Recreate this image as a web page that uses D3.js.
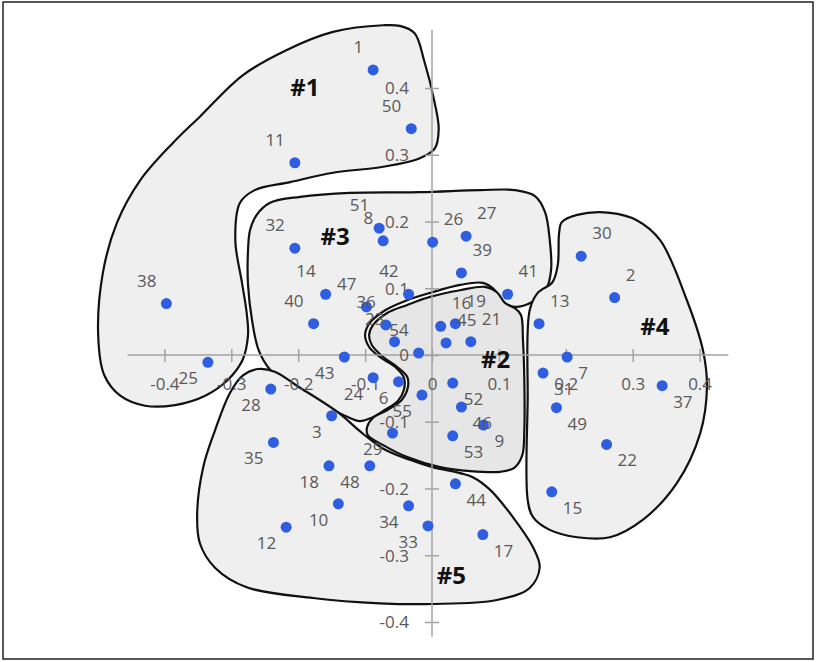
<!DOCTYPE html>
<html>
<head>
<meta charset="utf-8">
<script src="https://cdn.jsdelivr.net/npm/d3@7"></script>
<style>
    body { margin: 0; background: #fff; }
    svg { display: block; }
    .tick text, .pt-label { font-family: "Open Sans", "Liberation Sans", Arial, sans-serif; font-size: 17px; fill: #595959; }
    .cluster-label { font-family: "Open Sans", "Liberation Sans", Arial, sans-serif; font-size: 24px; font-weight: bold; fill: #111; }
</style>
</head>
<body>
<svg id="chart"></svg>
<script>
// point ids and coordinates
const ids = [1, 2, 3, 6, 7, 8, 9, 10, 11, 12, 13, 14, 15, 16, 17, 18, 19, 21, 22, 23,
    24, 25, 26, 27, 28, 29, 30, 31, 32, 33, 34, 35, 36, 37, 38, 39, 40, 41, 42, 43,
    44, 45, 46, 47, 48, 49, 50, 51, 52, 53, 54, 55];
const xs = [-0.088, 0.273, -0.150, -0.050, 0.202, -0.073, 0.077, -0.140, -0.205, -0.218, 0.160, -0.159, 0.179, 0.013, 0.076, -0.154, 0.035, 0.058, 0.261, -0.056,
    -0.088, -0.335, 0.001, 0.051, -0.241, -0.059, 0.223, 0.166, -0.205, -0.006, -0.035, -0.237, -0.069, 0.344, -0.397, 0.044, -0.177, 0.113, -0.035, -0.131,
    0.035, 0.021, 0.044, -0.098, -0.093, 0.186, -0.031, -0.079, 0.031, 0.031, -0.020, -0.015];
const ys = [0.427, 0.086, -0.091, -0.040, -0.003, 0.171, -0.105, -0.223, 0.288, -0.258, 0.047, 0.091, -0.205, 0.043, -0.269, -0.166, 0.047, 0.020, -0.134, 0.020,
    -0.034, -0.011, 0.169, 0.178, -0.051, -0.117, 0.148, -0.027, 0.160, -0.256, -0.226, -0.131, 0.045, -0.046, 0.077, 0.123, 0.047, 0.091, 0.091, -0.003,
    -0.193, 0.018, -0.078, 0.072, -0.166, -0.079, 0.339, 0.190, -0.042, -0.121, 0.003, -0.060];

const xTicks = [-0.4, -0.3, -0.2, -0.1, 0, 0.1, 0.2, 0.3, 0.4];
const yTicks = [-0.4, -0.3, -0.2, -0.1, 0, 0.1, 0.2, 0.3, 0.4];

// hand drawn cluster outlines, in data units
const outline1 = [[-0.048, 0.493], [-0.026, 0.482], [-0.012, 0.442], [0.004, 0.378], [0.010, 0.338], [0.004, 0.309], [-0.020, 0.294],
    [-0.073, 0.282], [-0.148, 0.273], [-0.212, 0.259], [-0.265, 0.247], [-0.287, 0.228], [-0.294, 0.172], [-0.284, 0.108], [-0.277, 0.063],
    [-0.275, 0.030], [-0.283, -0.007], [-0.305, -0.037], [-0.339, -0.061], [-0.384, -0.075], [-0.429, -0.076], [-0.466, -0.061],
    [-0.490, -0.030], [-0.499, 0.030], [-0.492, 0.123], [-0.471, 0.198], [-0.436, 0.262], [-0.387, 0.318], [-0.347, 0.357],
    [-0.283, 0.419], [-0.217, 0.457], [-0.148, 0.484], [-0.073, 0.494]];
const outline2 = [[-0.088, 0.045], [-0.067, 0.063], [-0.037, 0.075], [-0.003, 0.087], [0.042, 0.097], [0.079, 0.102], [0.097, 0.094],
    [0.109, 0.078], [0.124, 0.070], [0.133, 0.060], [0.136, 0.022], [0.138, -0.037], [0.138, -0.112], [0.135, -0.150], [0.123, -0.169],
    [0.102, -0.175], [0.057, -0.174], [0.012, -0.168], [-0.037, -0.153], [-0.073, -0.135], [-0.096, -0.120], [-0.097, -0.108],
    [-0.088, -0.094], [-0.066, -0.082], [-0.045, -0.067], [-0.036, -0.048], [-0.037, -0.033], [-0.052, -0.018], [-0.073, -0.003],
    [-0.090, 0.015], [-0.094, 0.030]];
const outline3 = [[-0.262, 0.210], [-0.242, 0.228], [-0.197, 0.237], [-0.123, 0.243], [-0.018, 0.244], [0.072, 0.247], [0.124, 0.247],
    [0.154, 0.238], [0.169, 0.214], [0.176, 0.172], [0.178, 0.127], [0.170, 0.097], [0.149, 0.079], [0.124, 0.072], [0.106, 0.079],
    [0.094, 0.097], [0.076, 0.108], [0.042, 0.105], [-0.003, 0.093], [-0.040, 0.081], [-0.070, 0.067], [-0.093, 0.048], [-0.100, 0.030],
    [-0.094, 0.012], [-0.078, -0.003], [-0.055, -0.018], [-0.042, -0.034], [-0.042, -0.052], [-0.051, -0.069], [-0.070, -0.082],
    [-0.090, -0.094], [-0.108, -0.099], [-0.130, -0.091], [-0.167, -0.072], [-0.212, -0.046], [-0.242, -0.022], [-0.259, 0.007],
    [-0.269, 0.052], [-0.275, 0.105], [-0.275, 0.157], [-0.272, 0.187]];
const outline4 = [[0.190, 0.183], [0.194, 0.199], [0.217, 0.210], [0.266, 0.213], [0.306, 0.202], [0.341, 0.172], [0.381, 0.082],
    [0.405, 0.007], [0.411, -0.048], [0.401, -0.117], [0.366, -0.192], [0.315, -0.247], [0.266, -0.273], [0.217, -0.273],
    [0.176, -0.262], [0.151, -0.243], [0.143, -0.217], [0.143, -0.067], [0.146, 0.067], [0.158, 0.093], [0.180, 0.109], [0.188, 0.135]];
const outline5 = [[-0.260, -0.021], [-0.235, -0.025], [-0.202, -0.046], [-0.142, -0.085], [-0.103, -0.118], [-0.070, -0.142],
    [-0.033, -0.157], [0.001, -0.168], [0.042, -0.177], [0.061, -0.183], [0.087, -0.202], [0.121, -0.243], [0.151, -0.288],
    [0.161, -0.318], [0.146, -0.349], [0.097, -0.367], [0.001, -0.373], [-0.078, -0.372], [-0.178, -0.364], [-0.277, -0.348],
    [-0.324, -0.319], [-0.347, -0.282], [-0.351, -0.237], [-0.342, -0.168], [-0.324, -0.112], [-0.302, -0.057], [-0.283, -0.031]];

const clusterNames = ['#1', '#3', '#4', '#5', '#2'];
const clusterShapes = [outline1, outline3, outline4, outline5, outline2];
const clusterFills = ['#efefef', '#efefef', '#efefef', '#efefef', '#e6e6e6'];
const clusterX = [-0.190, -0.145, 0.333, 0.029, 0.095];
const clusterY = [0.401, 0.177, 0.043, -0.330, -0.007];

const width = 816, height = 662;

const svg = d3.select('#chart')
    .attr('width', width)
    .attr('height', height);

// scales: 0.1 units is about 67 px on both axes
const x = d3.scaleLinear().domain([-0.4, 0.4]).range([164.4, 699.6]);
const y = d3.scaleLinear().domain([-0.4, 0.4]).range([622, 88]);

// frame round the picture
svg.append('rect')
    .attr('x', 3).attr('y', 2)
    .attr('width', 810).attr('height', 657)
    .attr('fill', 'none')
    .attr('stroke', '#222')
    .attr('stroke-width', 1.5);

// cluster outlines go under the axes
const shapeLine = d3.line()
    .x(d => x(d[0]))
    .y(d => y(d[1]))
    .curve(d3.curveCatmullRomClosed.alpha(0.5));

svg.append('g').selectAll('path')
    .data(clusterShapes)
    .join('path')
    .attr('d', shapeLine)
    .attr('fill', (d, i) => clusterFills[i])
    .attr('stroke', '#111')
    .attr('stroke-width', 2.2);

// axes crossing at the origin
const axisColor = '#a3a3a3';
const fmt = d => d === 0 ? '0' : d.toFixed(1);

svg.append('line')
    .attr('x1', x(-0.455)).attr('x2', x(0.443))
    .attr('y1', y(0)).attr('y2', y(0))
    .attr('stroke', axisColor).attr('stroke-width', 1.5);
svg.append('line')
    .attr('x1', x(0)).attr('x2', x(0))
    .attr('y1', y(0.487)).attr('y2', y(-0.422))
    .attr('stroke', axisColor).attr('stroke-width', 1.5);

const xAxisG = svg.append('g')
    .attr('transform', `translate(0,${y(0)})`)
    .call(d3.axisBottom(x).tickValues(xTicks).tickSize(7).tickFormat(fmt));
xAxisG.select('.domain').remove();
xAxisG.selectAll('.tick line')
    .attr('y1', -6).attr('y2', 7)
    .attr('stroke', axisColor).attr('stroke-width', 1.5);
xAxisG.selectAll('.tick text')
    .attr('y', 29).attr('dy', '0.35em');

const yAxisG = svg.append('g')
    .attr('transform', `translate(${x(0)},0)`)
    .call(d3.axisLeft(y).tickValues(yTicks).tickSize(7).tickFormat(fmt));
yAxisG.select('.domain').remove();
yAxisG.selectAll('.tick line')
    .attr('x1', -7).attr('x2', 7)
    .attr('stroke', axisColor).attr('stroke-width', 1.5);
yAxisG.selectAll('.tick text')
    .attr('x', -23).attr('dy', '0.35em');
svg.selectAll('.tick text').attr('fill', null);
xAxisG.attr('font-family', null).attr('font-size', null);
yAxisG.attr('font-family', null).attr('font-size', null);

// points and their number labels
const pts = ids.map((id, i) => ({id: id, x: xs[i], y: ys[i]}));

svg.append('g').selectAll('circle')
    .data(pts)
    .join('circle')
    .attr('cx', d => x(d.x))
    .attr('cy', d => y(d.y))
    .attr('r', 5.5)
    .attr('fill', '#2f5ee0');

// labels sit diagonally outward, by quadrant
svg.append('g').selectAll('text')
    .data(pts)
    .join('text')
    .attr('class', 'pt-label')
    .attr('x', d => d.x < 0 ? x(d.x) - 10 : x(d.x) + 11)
    .attr('y', d => d.y >= 0 ? y(d.y) - 23 : y(d.y) + 16)
    .attr('dy', '0.35em')
    .attr('text-anchor', d => d.x < 0 ? 'end' : 'start')
    .text(d => d.id);

svg.append('g').selectAll('text')
    .data(clusterNames)
    .join('text')
    .attr('class', 'cluster-label')
    .attr('x', (d, i) => x(clusterX[i]))
    .attr('y', (d, i) => y(clusterY[i]))
    .attr('dy', '0.35em')
    .attr('text-anchor', 'middle')
    .text(d => d);
</script>
</body>
</html>
